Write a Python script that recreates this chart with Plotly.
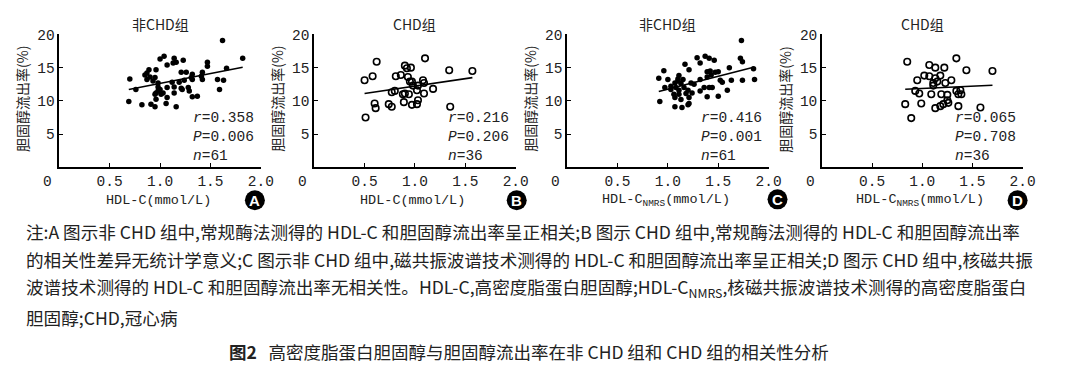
import plotly.graph_objects as go

# ---------------- data ----------------
a_x = [1.62, 1.82, 1.00, 1.04, 1.14, 1.13, 1.16, 1.23, 1.07, 1.47, 1.47, 1.66, 0.89, 0.96, 0.85, 0.90,
       0.70, 1.21, 1.26, 1.32, 1.42, 1.41, 1.32, 1.57, 1.63, 0.87, 0.95, 0.93, 1.12, 1.24, 1.31, 1.59,
       0.76, 0.98, 1.00, 1.07, 1.14, 1.21, 1.28, 0.96, 0.98, 1.03, 1.14, 1.29, 0.95, 1.01, 1.32, 1.37,
       1.22, 0.96, 1.07, 0.69, 0.82, 0.91, 0.95, 1.06, 1.16, 0.98, 0.87, 1.19, 1.42]
a_y = [19.1, 16.4, 16.3, 16.7, 16.4, 15.7, 15.8, 16.1, 15.4, 15.8, 15.2, 14.9, 14.7, 14.7, 13.9, 13.6,
       13.3, 14.3, 14.3, 14.0, 14.3, 13.7, 13.2, 13.2, 13.1, 13.2, 13.5, 13.0, 12.8, 13.1, 13.5, 11.7,
       11.7, 12.1, 11.7, 12.0, 12.1, 11.9, 12.0, 11.2, 11.5, 11.2, 11.2, 11.5, 11.0, 11.0, 10.6, 10.7,
       11.7, 10.25, 10.5, 9.9, 9.4, 9.5, 9.1, 9.6, 9.1, 12.7, 14.2, 12.8, 13.2]

b_x = [0.62, 0.50, 0.58, 0.60, 0.61, 0.51, 0.74, 0.77, 0.77, 0.80, 0.81, 0.86, 0.90, 0.92, 0.96, 0.93,
       0.95, 0.97, 0.88, 0.90, 0.94, 0.89, 0.97, 1.02, 1.03, 1.03, 1.02, 1.08, 1.09, 1.09, 1.10, 1.18,
       1.34, 1.35, 1.57, 0.98]
b_y = [15.9, 13.1, 13.7, 9.6, 8.9, 7.5, 9.5, 9.1, 11.3, 11.5, 13.7, 13.9, 15.3, 14.9, 15.0, 13.6,
       12.9, 12.9, 11.0, 11.1, 11.0, 9.8, 9.4, 9.5, 10.1, 12.3, 11.6, 13.1, 12.7, 11.1, 16.4, 11.8,
       14.6, 9.1, 14.5, 12.3]

c_x = [1.73, 0.96, 0.91, 1.00, 1.17, 1.21, 1.29, 1.32, 1.37, 1.41, 1.46, 1.72, 1.74, 1.39, 1.42, 1.47,
       1.50, 1.61, 1.85, 1.43, 1.32, 1.52, 1.63, 1.74, 1.86, 1.11, 1.15, 1.23, 1.10, 1.13, 1.07, 1.03,
       1.08, 1.11, 1.16, 1.06, 1.11, 1.20, 1.24, 1.32, 1.36, 1.41, 1.44, 1.59, 1.07, 1.13, 1.21, 1.39,
       1.50, 0.92, 1.07, 1.14, 1.20, 1.21, 1.03, 1.39, 1.10, 1.18, 0.97, 1.26, 1.54]
c_y = [19.1, 14.55, 13.4, 13.2, 15.5, 14.7, 16.5, 15.7, 16.7, 16.4, 16.1, 16.4, 15.9, 14.4, 14.5, 14.3,
       14.4, 15.0, 14.85, 13.9, 13.2, 13.1, 13.1, 13.1, 13.2, 13.8, 13.2, 12.7, 13.0, 12.6, 12.7, 11.7,
       12.0, 11.6, 12.0, 11.0, 11.0, 11.6, 11.2, 11.5, 12.0, 12.0, 12.0, 11.6, 10.5, 10.2, 10.5, 10.6,
       10.7, 9.9, 9.1, 9.0, 9.4, 9.6, 12.2, 13.6, 13.3, 11.1, 12.0, 12.5, 12.8]

d_x = [0.85, 1.07, 1.13, 1.22, 1.34, 1.44, 1.70, 0.95, 1.02, 1.07, 1.13, 1.15, 1.18, 1.11, 1.11, 1.23,
       1.29, 0.93, 0.97, 1.09, 1.19, 1.25, 1.25, 1.26, 1.21, 1.18, 1.13, 1.34, 1.38, 1.36, 1.39, 0.83,
       0.99, 0.89, 1.36, 1.58]
d_y = [15.9, 15.4, 15.0, 15.0, 16.4, 14.6, 14.5, 13.1, 13.8, 13.7, 13.4, 12.9, 13.8, 12.7, 12.3, 12.7,
       13.1, 11.5, 11.1, 11.0, 11.0, 10.9, 10.1, 9.7, 9.5, 9.2, 8.9, 11.5, 11.6, 11.0, 11.0, 9.5,
       9.6, 7.4, 9.2, 9.0]

# fitted regression lines (end points)
fit_a_x = [0.69, 1.82]
fit_a_y = [11.7, 15.05]
fit_b_x = [0.50, 1.57]
fit_b_y = [11.1, 13.5]
fit_c_x = [0.91, 1.85]
fit_c_y = [11.4, 15.05]
fit_d_x = [0.83, 1.70]
fit_d_y = [11.75, 12.35]

panel_titles = ["非CHD组", "CHD组", "非CHD组", "CHD组"]
x_titles = ["HDL-C(mmol/L)", "HDL-C(mmol/L)", "HDL-C<sub>NMRS</sub>(mmol/L)", "HDL-C<sub>NMRS</sub>(mmol/L)"]
stat_r = ["0.358", "0.216", "0.416", "0.065"]
stat_p = ["0.006", "0.206", "0.001", "0.708"]
stat_n = ["61", "36", "61", "36"]
badges = ["A", "B", "C", "D"]
x_tickvals = [0.5, 1.0, 1.5, 2.0]
y_tickvals = [5, 10, 15, 20]
y_title = "胆固醇流出率(%)"

caption_lines = [
    "注:A 图示非 CHD 组中,常规酶法测得的 HDL-C 和胆固醇流出率呈正相关;B 图示 CHD 组中,常规酶法测得的 HDL-C 和胆固醇流出率",
    "的相关性差异无统计学意义;C 图示非 CHD 组中,磁共振波谱技术测得的 HDL-C 和胆固醇流出率呈正相关;D 图示 CHD 组中,核磁共振",
    "波谱技术测得的 HDL-C 和胆固醇流出率无相关性。HDL-C,高密度脂蛋白胆固醇;HDL-C<sub>NMRS</sub>,核磁共振波谱技术测得的高密度脂蛋白",
    "胆固醇;CHD,冠心病",
]
fig_title = "<b>图2</b>   高密度脂蛋白胆固醇与胆固醇流出率在非 CHD 组和 CHD 组的相关性分析"

# ---------------- layout helpers ----------------
W, H = 1080, 372
px_left = [60, 318, 574, 832]
px_right = [264, 522, 778, 1035]
y_top_px, y_bot_px = 28, 163.3
badge_px = [(258, 197), (523, 197), (787, 196), (1030, 197)]

MONO = "Liberation Mono, DejaVu Sans Mono, monospace"
CJK = "Noto Sans CJK SC, sans-serif"


def px(xp, yp):
    return xp / W, (H - yp) / H


datasets = [(a_x, a_y, fit_a_x, fit_a_y, False),
            (b_x, b_y, fit_b_x, fit_b_y, True),
            (c_x, c_y, fit_c_x, fit_c_y, False),
            (d_x, d_y, fit_d_x, fit_d_y, True)]

fig = go.Figure()
annotations = []
shapes = []


def ann(text, xp, yp, size, family, xanchor="center", yanchor="middle", **kw):
    x, y = px(xp, yp)
    d = dict(text=text, x=x, y=y, xref="paper", yref="paper", xanchor=xanchor, yanchor=yanchor,
             showarrow=False, font=dict(family=family, size=size, color=kw.pop("color", "#222")))
    d.update(kw)
    annotations.append(d)


for i, (xs, ys, fx, fy, hollow) in enumerate(datasets):
    k = "" if i == 0 else str(i + 1)
    xa, ya = "x" + k, "y" + k
    if hollow:
        marker = dict(symbol="circle-open", size=6.5, color="black", line=dict(width=1.6, color="black"))
    else:
        marker = dict(symbol="circle", size=5.5, color="black", line=dict(width=0))
    fig.add_trace(go.Scatter(x=xs, y=ys, mode="markers", marker=marker,
                             xaxis=xa, yaxis=ya, showlegend=False, cliponaxis=False))
    fig.add_trace(go.Scatter(x=fx, y=fy, mode="lines", line=dict(color="black", width=1.6),
                             xaxis=xa, yaxis=ya, showlegend=False))

    dom_x = [px_left[i] / W, px_right[i] / W]
    dom_y = [(H - y_bot_px) / H, (H - y_top_px) / H]
    axis_common = dict(showline=True, linecolor="black", linewidth=1.5, showgrid=False,
                       zeroline=False, ticks="inside", ticklen=4, tickwidth=1.3, tickcolor="black",
                       tickfont=dict(family=MONO, size=14.5, color="#222"))
    fig.update_layout(**{
        "xaxis" + k: dict(domain=dom_x, range=[0, 2.0], tickvals=x_tickvals,
                          ticktext=[f"{v:.1f}" for v in x_tickvals],
                          anchor=ya, **axis_common),
        "yaxis" + k: dict(domain=dom_y, range=[0, 20], tickvals=y_tickvals,
                          anchor=xa, **axis_common),
    })

    cxp = (px_left[i] + px_right[i]) / 2
    ann(panel_titles[i], cxp, 17, 14, CJK)
    ann(x_titles[i], cxp - 2, 197, 13.5, MONO)
    ann("0", px_left[i] - 12, 178, 14.5, MONO)
    ann(y_title, px_left[i] - 37, 94, 14, CJK, textangle=-90)
    stat = (f"<i>r</i>={stat_r[i]}<br><i>P</i>={stat_p[i]}<br><i>n</i>={stat_n[i]}")
    annotations.append(dict(text=stat, x=0.655, y=(H - 103) / H, xref=xa + " domain", yref="paper",
                            xanchor="left", yanchor="top", align="left", showarrow=False,
                            font=dict(family=MONO, size=14.5, color="#222")))
    bx, by = badge_px[i]
    bxf, byf = px(bx, by)
    shapes.append(dict(type="circle", xref="paper", yref="paper", xsizemode="pixel", ysizemode="pixel",
                       xanchor=bxf, yanchor=byf, x0=-10, x1=10, y0=-10, y1=10,
                       fillcolor="black", line=dict(color="black", width=0)))
    ann("<b>" + badges[i] + "</b>", bx, by, 15, "Liberation Sans, Arial", color="white")

cap_y = [229, 257, 286, 316]
for line, yy in zip(caption_lines, cap_y):
    ann(line, 24, yy, 17.6, CJK, xanchor="left")
ann(fig_title, 230, 351, 17.5, CJK, xanchor="left")

fig.update_layout(width=W, height=H, margin=dict(l=0, r=0, t=0, b=0),
                  paper_bgcolor="white", plot_bgcolor="white",
                  annotations=annotations, shapes=shapes)

fig.write_html("out.html", config={"displayModeBar": False},
               post_script="document.body.style.margin='0';")
